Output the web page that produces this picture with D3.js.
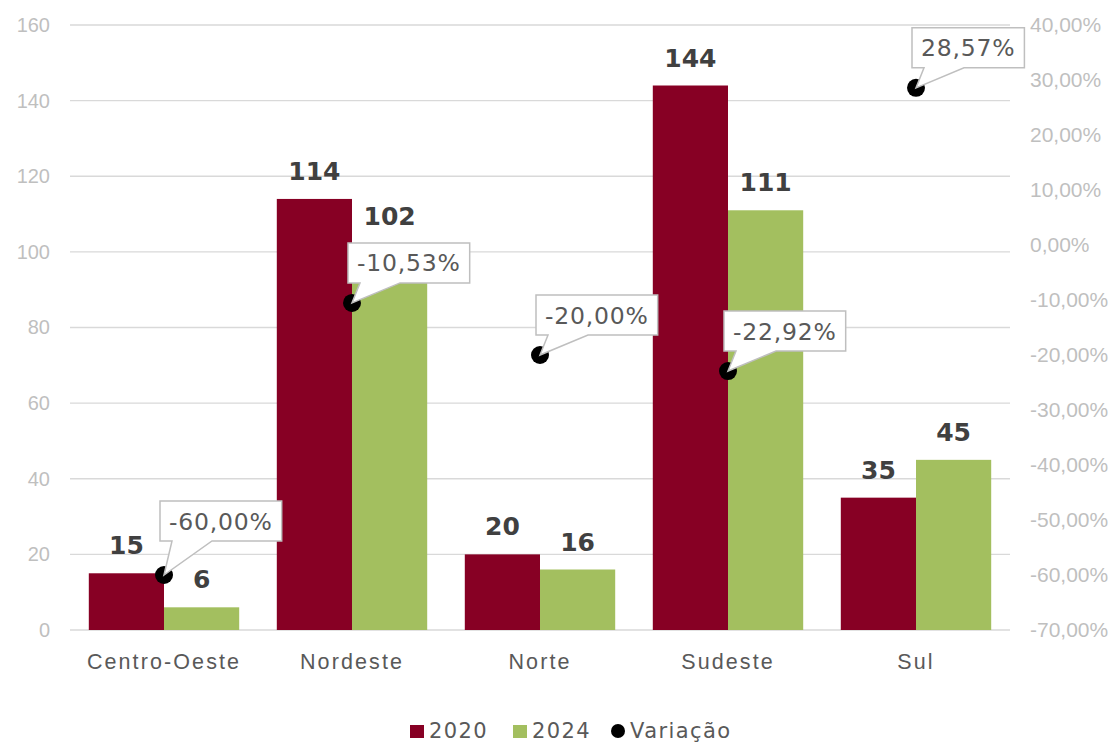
<!DOCTYPE html>
<html><head><meta charset="utf-8">
<script src="https://cdn.jsdelivr.net/npm/d3@7"></script>
<style>body{margin:0;background:#fff}svg{display:block;font-family:"DejaVu Sans",sans-serif}</style>
</head><body><svg id="c" width="1118" height="742"></svg>
<script>
const categories = ["Centro-Oeste","Nordeste","Norte","Sudeste","Sul"];
const values2020 = [15,114,20,144,35];
const values2024 = [6,102,16,111,45];
const variacao = [-60.00,-10.53,-20.00,-22.92,28.57];
const leftTicks = [0,20,40,60,80,100,120,140,160];
const rightTicks = [40,30,20,10,0,-10,-20,-30,-40,-50,-60,-70];
const seriesNames = ["2020","2024","Variação"];

const colors = {a:"#870024", b:"#A3BF5F"};
const svg = d3.select("#c");
const m = {l:70, r:1010, t:25, b:630};

const x = d3.scaleBand().domain(categories).range([m.l,m.r]).paddingInner(0.2).paddingOuter(0.1);
const xs = d3.scaleBand().domain([0,1]).range([0,x.bandwidth()]);
const yL = d3.scaleLinear().domain([0,160]).range([m.b,m.t]);
const yR = d3.scaleLinear().domain([-70,40]).range([m.b,m.t]);
const fmt = v => d3.format(".2f")(v).replace(".",",").replace("\u2212","-") + "%";

// gridlines
svg.append("g").selectAll("line").data(leftTicks).join("line")
  .attr("x1",m.l).attr("x2",m.r).attr("y1",d=>yL(d)).attr("y2",d=>yL(d))
  .attr("stroke","#d9d9d9").attr("stroke-width",1.3);

// left axis
const axL = svg.append("g").attr("transform",`translate(${m.l},0)`)
  .call(d3.axisLeft(yL).tickValues(leftTicks).tickSize(0).tickPadding(20));
axL.select(".domain").remove();
axL.selectAll("text").attr("font-size",20).attr("fill","#bfbfbf").attr("font-family","inherit");

// right axis
const axR = svg.append("g").attr("transform",`translate(${m.r},0)`)
  .call(d3.axisRight(yR).tickValues(rightTicks).tickSize(0).tickPadding(20).tickFormat(fmt));
axR.select(".domain").remove();
axR.selectAll("text").attr("font-size",21).attr("fill","#bfbfbf").attr("font-family","inherit");

// x axis labels
const axX = svg.append("g").attr("transform",`translate(0,${m.b})`)
  .call(d3.axisBottom(x).tickSize(0).tickPadding(24));
axX.select(".domain").remove();
axX.selectAll("text").attr("font-size",21.5).attr("letter-spacing",2.1).attr("fill","#595959").attr("font-family","inherit");

// bars
const series = [values2020, values2024];
const cols = [colors.a, colors.b];
series.forEach((vals,si)=>{
  const g = svg.append("g");
  g.selectAll("rect").data(categories).join("rect")
    .attr("x",c=>x(c)+xs(si)).attr("width",xs.bandwidth())
    .attr("y",(c,i)=>yL(vals[i])).attr("height",(c,i)=>yL(0)-yL(vals[i]))
    .attr("fill",cols[si]);
  g.selectAll("text").data(categories).join("text")
    .attr("x",c=>x(c)+xs(si)+xs.bandwidth()/2)
    .attr("y",(c,i)=>yL(vals[i])-19)
    .attr("text-anchor","middle").attr("font-size",25).attr("font-weight","bold")
    .attr("fill","#404040").text((c,i)=>vals[i]);
});

// variation markers
const cx = c => x(c)+x.bandwidth()/2;
svg.append("g").selectAll("circle").data(categories).join("circle")
  .attr("cx",cx).attr("cy",(c,i)=>yR(variacao[i])).attr("r",9).attr("fill","#000");

// callouts
const cg = svg.append("g");
categories.forEach((c,i)=>{
  const px = cx(c), py = yR(variacao[i]);
  const t = cg.append("text").attr("font-size",23.5).attr("letter-spacing",0.8).attr("fill","#595959").text(fmt(variacao[i]));
  const w = t.node().getComputedTextLength();
  const bw = w+18, bh = 40;
  const dy = i===0 ? 74 : 60;
  const bx = px-4, by = py-dy;
  const g = cg.insert("g", () => t.node());
  g.append("path")
    .attr("d",`M${bx},${by} H${bx+bw} V${by+bh} H${bx+52} L${px},${py} L${bx+12},${by+bh} H${bx} Z`)
    .attr("fill","#fff").attr("stroke","#bfbfbf").attr("stroke-width",1.5);
  t.attr("x",bx+9).attr("y",by+bh/2+8.5);
});

// legend
const lg = svg.append("g").attr("transform","translate(0,738)");
const legItems = [{n:seriesNames[0],c:colors.a,x:410,t:"rect"},{n:seriesNames[1],c:colors.b,x:513,t:"rect"},{n:seriesNames[2],c:"#000",x:611,t:"circle"}];
legItems.forEach(d=>{
  if(d.t==="rect") lg.append("rect").attr("x",d.x).attr("y",-13).attr("width",14).attr("height",13).attr("fill",d.c);
  else lg.append("circle").attr("cx",d.x+7).attr("cy",-7).attr("r",7).attr("fill",d.c);
  lg.append("text").attr("x",d.x+19).attr("y",0).attr("font-size",21).attr("letter-spacing",1.4).attr("fill","#595959").text(d.n);
});
</script></body></html>
